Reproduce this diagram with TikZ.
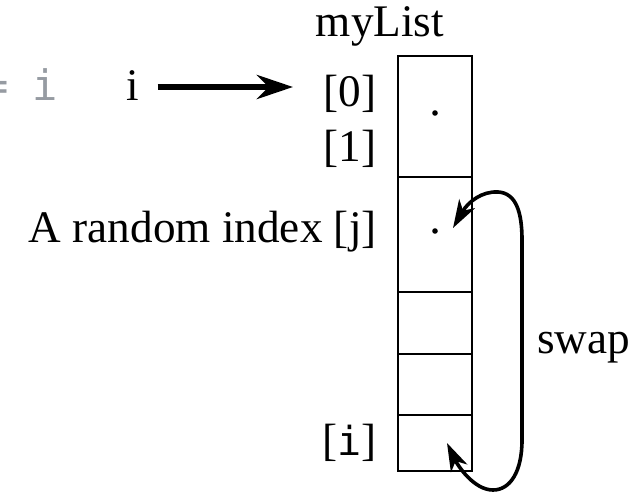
\documentclass[tikz,border=0pt]{standalone}
\usepackage{fontspec}
\setmainfont{Liberation Serif}
\newfontfamily\monof{DejaVu Sans Mono}
\usetikzlibrary{arrows.meta}
\definecolor{codegray}{RGB}{150,155,162}
\begin{document}
\begin{tikzpicture}[x=0.5pt,y=-0.5pt,
  lbl/.style={inner sep=0pt,font=\fontsize{22.6}{27}\selectfont},
  cell/.style={draw,line width=1pt,minimum width=37pt,inner sep=0pt},
  thickarrow/.style={line width=3.3pt,-{Stealth[length=18pt,width=12pt]}},
  swaparrow/.style={line width=1.8pt,{Stealth[length=14pt,width=9pt,inset=4pt]}-{Stealth[length=14pt,width=9pt,inset=4pt]}}]
\useasboundingbox (0,0) rectangle (635,492);
% cells
\node[cell,minimum height=60.5pt] (c01) at (435,116.5) {};
\node[cell,minimum height=57.5pt] (cj) at (435,234.5) {};
\node[cell,minimum height=31pt] (c3) at (435,323) {};
\node[cell,minimum height=30.5pt] (c4) at (435,384.5) {};
\node[cell,minimum height=28pt] (ci) at (435,443) {};
\fill (435,113) circle (1.4pt);
\fill (435,231) circle (1.4pt);
% labels
\node[lbl,anchor=base] (title) at (380,37) {myList};
\node[lbl,anchor=base east] (l0) at (377,106) {[0]};
\node[lbl,anchor=base east] (l1) at (377,161) {[1]};
\node[lbl,anchor=base east] (lj) at (377,242) {A random index [j]};
\node[lbl,anchor=base east] (li) at (377,455) {[{\monof\fontsize{20}{24}\selectfont i}]};
\node[lbl,anchor=base west] (swap) at (537,353) {swap};
% left code fragment
\node[lbl,anchor=base east,text=codegray] (eq) at (9,100) {\monof\fontsize{21}{25}\selectfont =};
\node[lbl,anchor=base,text=codegray] (gi) at (45,100) {\monof\fontsize{21}{25}\selectfont i};
\node[lbl,anchor=base] (iv) at (133,100) {i};
% arrow from i
\coordinate (aend) at (293,87);
\draw[thickarrow] (iv.east |- aend) ++(18,0) coordinate (astart) -- (aend);
% swap
\coordinate (tj) at (453,228);
\coordinate (ti) at (447,443);
\draw[swaparrow] (tj) .. controls (468,202) and (482,191) .. (498,192)
  .. controls (516,193) and (522,212) .. (522,240) -- (522,440)
  .. controls (522,472) and (510,490) .. (493,490)
  .. controls (474,490) and (458,466) .. (ti);
\end{tikzpicture}
\end{document}
